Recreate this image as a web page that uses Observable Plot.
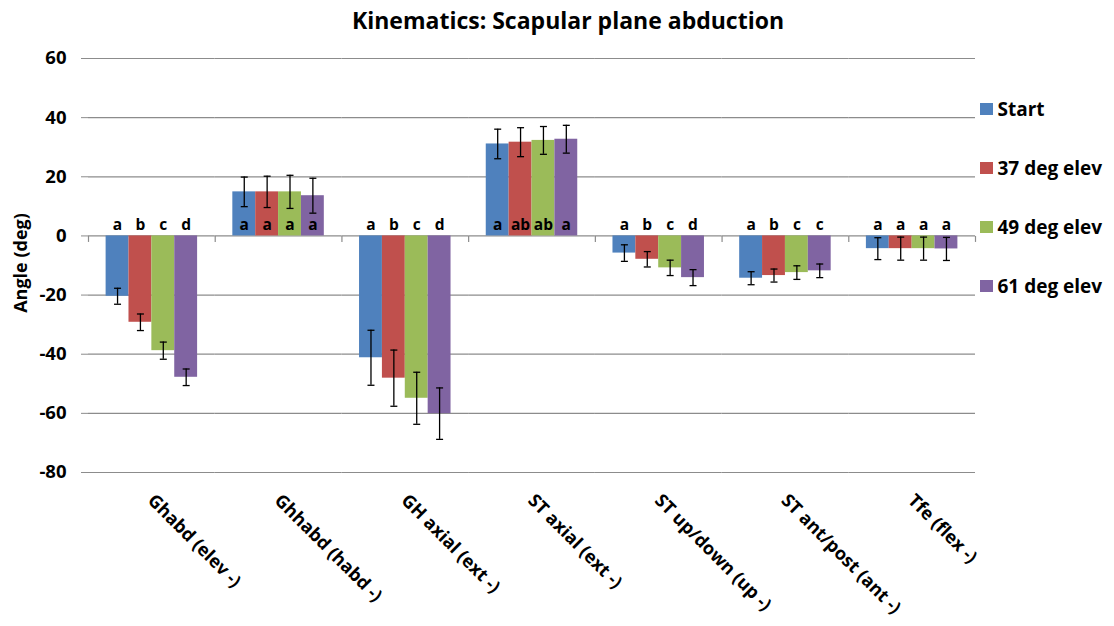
<!DOCTYPE html>
<html>
<head>
<meta charset="utf-8">
<script src="https://cdn.jsdelivr.net/npm/d3@7"></script>
<script src="https://cdn.jsdelivr.net/npm/@observablehq/plot@0.6"></script>
<style>
  html, body { margin: 0; padding: 0; background: #fff; }
  #chart { position: relative; width: 1114px; height: 626px; font-family: "Open Sans", Lato, sans-serif; font-weight: bold; color: #000; }
  #title { position: absolute; left: 11px; width: 1114px; top: 4px; text-align: center; font-size: 23px; }
  #ylabel { position: absolute; left: 20px; top: 263px; font-size: 18px; transform: translate(-50%, -50%) rotate(-90deg); white-space: nowrap; }
  #legend { position: absolute; left: 980px; top: 0; }
  .item { position: absolute; left: 0; display: flex; align-items: center; white-space: nowrap; font-size: 19px; transform: translateY(-50%); }
  .swatch { width: 12.5px; height: 12.5px; margin-right: 5px; }
  svg { position: absolute; left: 0; top: 0; }
</style>
</head>
<body>
<div id="chart">
  <div id="title">Kinematics: Scapular plane abduction</div>
  <div id="ylabel">Angle (deg)</div>
  <div id="legend"></div>
</div>
<script>
// Joint angle categories (x axis)
const categories = [
  "Ghabd (elev -)", "Ghhabd (habd -)", "GH axial (ext -)", "ST axial (ext -)",
  "ST up/down (up -)", "ST ant/post (ant -)", "Tfe (flex -)"
];
// Arm elevation conditions (series)
const seriesNames = ["Start", "37 deg elev", "49 deg elev", "61 deg elev"];
const seriesColors = ["#4F81BD", "#C0504D", "#9BBB59", "#8064A2"];

// Mean angles (deg), one array per series, in category order
const startMeans = [-20.4, 14.9, -41.2, 31.1, -5.8, -14.3, -4.3];
const elev37Means = [-29.2, 14.9, -48.1, 31.7, -7.9, -13.4, -4.3];
const elev49Means = [-38.8, 14.9, -54.9, 32.3, -10.8, -12.4, -4.3];
const elev61Means = [-47.8, 13.6, -60.1, 32.7, -14.1, -11.8, -4.4];

// Error bar half-widths (deg)
const startErr = [2.7, 5.0, 9.3, 5.0, 2.8, 2.2, 3.7];
const elev37Err = [2.8, 5.3, 9.5, 4.9, 2.6, 2.2, 3.9];
const elev49Err = [2.9, 5.6, 8.8, 4.7, 2.6, 2.3, 3.9];
const elev61Err = [2.8, 5.9, 8.7, 4.7, 2.7, 2.3, 3.9];

// Significance letters
const startLetters = ["a", "a", "a", "a", "a", "a", "a"];
const elev37Letters = ["b", "a", "b", "ab", "b", "b", "a"];
const elev49Letters = ["c", "a", "c", "ab", "c", "c", "a"];
const elev61Letters = ["d", "a", "d", "a", "d", "c", "a"];

// Y axis ticks
const yTicks = [60, 40, 20, 0, -20, -40, -60, -80];

const means = [startMeans, elev37Means, elev49Means, elev61Means];
const errs = [startErr, elev37Err, elev49Err, elev61Err];
const letters = [startLetters, elev37Letters, elev49Letters, elev61Letters];

const rows = [];
categories.forEach((cat, i) => {
  seriesNames.forEach((s, j) => {
    rows.push({cat, series: s, value: means[j][i], err: errs[j][i], letter: letters[j][i]});
  });
});

const gridColor = "#8c8c8c";

// small vertical tick hanging below the category axis
const downTick = {draw(ctx) { ctx.moveTo(0, 0); ctx.lineTo(0, 6); }};
// error bar cap
const capSymbol = {draw(ctx) { ctx.moveTo(-3.5, 0); ctx.lineTo(3.5, 0); }};

const chart = Plot.plot({
  width: 1114,
  height: 626,
  marginTop: 58,
  marginBottom: 154,
  marginLeft: 88,
  marginRight: 139,
  style: {fontFamily: "'Open Sans', Lato, sans-serif", fontWeight: "bold", color: "#000", background: "transparent"},
  fx: {domain: categories, padding: 0, round: false},
  x: {domain: seriesNames, paddingInner: 0, paddingOuter: 0.77, round: false, axis: null},
  y: {domain: [-80, 60]},
  color: {domain: seriesNames, range: seriesColors},
  marks: [
    Plot.ruleY(yTicks, {stroke: gridColor, strokeWidth: 1.2}),
    Plot.barY(rows, {fx: "cat", x: "series", y: "value", fill: "series"}),
    Plot.dot(categories, {fx: d => d, y: () => 0, frameAnchor: "left", symbol: downTick, stroke: gridColor, strokeWidth: 1.2}),
    Plot.dot(categories.slice(-1), {fx: d => d, y: () => 0, frameAnchor: "right", symbol: downTick, stroke: gridColor, strokeWidth: 1.2}),
    Plot.ruleX(rows, {fx: "cat", x: "series", y1: d => d.value - d.err, y2: d => d.value + d.err, stroke: "#000", strokeWidth: 1.3}),
    Plot.dot(rows, {fx: "cat", x: "series", y: d => d.value - d.err, symbol: capSymbol, stroke: "#000", strokeWidth: 1.3}),
    Plot.dot(rows, {fx: "cat", x: "series", y: d => d.value + d.err, symbol: capSymbol, stroke: "#000", strokeWidth: 1.3}),
    Plot.text(rows, {fx: "cat", x: "series", y: () => 0, text: "letter", dy: -11, fontSize: 15.5, fontWeight: "bold", fill: "#000"}),
    Plot.axisY({ticks: yTicks, tickFormat: d => String(d), tickSize: 7, tickPadding: 15, fontSize: 18.5, stroke: gridColor, label: null, line: true}),
    Plot.axisFx({anchor: "bottom", tickRotate: 45, tickSize: 0, tickPadding: 25, dx: -1, fontSize: 18, label: null})
  ]
});
document.getElementById("chart").appendChild(chart);

// legend
const legend = document.getElementById("legend");
const legendY = [109, 168, 227, 286];
seriesNames.forEach((s, j) => {
  const item = document.createElement("div");
  item.className = "item";
  item.style.top = legendY[j] + "px";
  const sw = document.createElement("div");
  sw.className = "swatch";
  sw.style.background = seriesColors[j];
  item.appendChild(sw);
  item.appendChild(document.createTextNode(s));
  legend.appendChild(item);
});
</script>
</body>
</html>
